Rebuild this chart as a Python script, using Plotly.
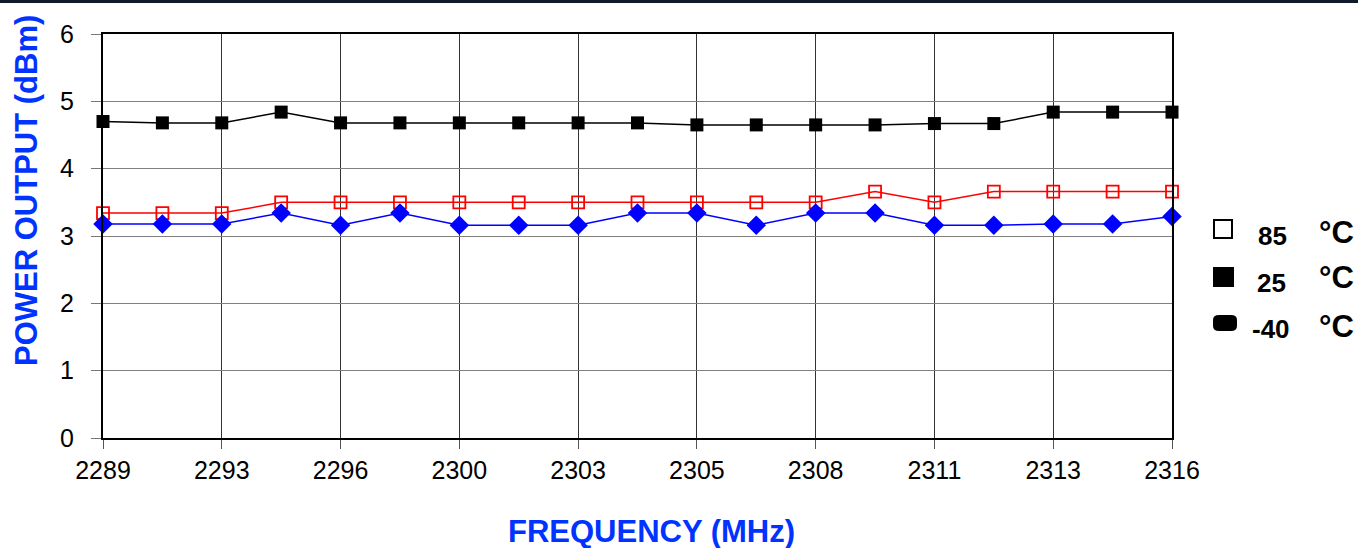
import plotly.graph_objects as go

freq_labels = ["2289", "2293", "2296", "2300", "2303", "2305", "2308", "2311", "2313", "2316"]
n_points = 19
x_idx = list(range(n_points))
tick_idx = list(range(0, n_points, 2))

p85 = [3.34, 3.34, 3.34, 3.50, 3.50, 3.50, 3.50, 3.50, 3.50, 3.50,
       3.50, 3.50, 3.50, 3.66, 3.50, 3.66, 3.66, 3.66, 3.66]
p25 = [4.70, 4.68, 4.68, 4.84, 4.68, 4.68, 4.68, 4.68, 4.68, 4.68,
       4.65, 4.65, 4.65, 4.65, 4.67, 4.67, 4.84, 4.84, 4.84]
pm40 = [3.18, 3.18, 3.18, 3.34, 3.16, 3.34, 3.16, 3.16, 3.16, 3.34,
        3.34, 3.16, 3.34, 3.34, 3.16, 3.16, 3.18, 3.18, 3.29]

legend_nums = ["85", "25", "-40"]

FONT = "Liberation Sans, Arial, sans-serif"
BLUE_T = "#0033ff"

fig = go.Figure()
fig.add_trace(go.Scatter(x=x_idx, y=p25, mode="lines+markers",
                         line=dict(color="black", width=1.5),
                         marker=dict(symbol="square", size=13, color="black"),
                         cliponaxis=False, showlegend=False))
fig.add_trace(go.Scatter(x=x_idx, y=p85, mode="lines+markers",
                         line=dict(color="#ff0000", width=1.5),
                         marker=dict(symbol="square-open", size=12, color="#ff0000",
                                     line=dict(width=1.8)),
                         cliponaxis=False, showlegend=False))
fig.add_trace(go.Scatter(x=x_idx, y=pm40, mode="lines+markers",
                         line=dict(color="#0000ff", width=1.5),
                         marker=dict(symbol="diamond", size=15, color="#0000ff"),
                         cliponaxis=False, showlegend=False))

W, H = 1358, 548
L, R, T, B = 103, 186, 34, 110
pw, ph = W - L - R, H - T - B

def px_x(p):
    return (p - L) / pw

def px_y(p):
    return (H - B - p) / ph

shapes = []
# top dark band
shapes.append(dict(type="rect", xref="paper", yref="paper",
                   x0=px_x(0), x1=px_x(W), y0=px_y(3), y1=px_y(-2),
                   fillcolor="#0d1b2a", line=dict(width=0), layer="above"))
# legend symbols
shapes.append(dict(type="rect", xref="paper", yref="paper",
                   x0=px_x(1214), x1=px_x(1232), y0=px_y(238), y1=px_y(220),
                   fillcolor="white", line=dict(color="black", width=2)))
shapes.append(dict(type="rect", xref="paper", yref="paper",
                   x0=px_x(1213), x1=px_x(1234), y0=px_y(287), y1=px_y(267),
                   fillcolor="black", line=dict(width=0)))
shapes.append(dict(type="path", xref="paper", yref="paper",
                   path=("M {a},{b} L {c},{b} Q {d},{b} {d},{e} L {d},{f} Q {d},{g} {c},{g} "
                         "L {a},{g} Q {h},{g} {h},{f} L {h},{e} Q {h},{b} {a},{b} Z").format(
                       a=px_x(1219), c=px_x(1231), d=px_x(1237), h=px_x(1213),
                       b=px_y(315), e=px_y(320), f=px_y(326), g=px_y(331)),
                   fillcolor="black", line=dict(width=0)))

annotations = []
num_pos = [(1272, 236), (1271, 283), (1271, 329)]
deg_pos = [(1336, 232), (1336, 277), (1336, 326)]
for txt, (nx, ny), (dx, dy) in zip(legend_nums, num_pos, deg_pos):
    annotations.append(dict(x=px_x(nx), y=px_y(ny), xref="paper", yref="paper",
                            text="<b>" + txt + "</b>", showarrow=False,
                            xanchor="center", yanchor="middle",
                            font=dict(family=FONT, size=26, color="black")))
    annotations.append(dict(x=px_x(dx), y=px_y(dy), xref="paper", yref="paper",
                            text="<b>°C</b>", showarrow=False,
                            xanchor="center", yanchor="middle",
                            font=dict(family=FONT, size=31, color="black")))
# axis titles
annotations.append(dict(x=px_x(651), y=px_y(531), xref="paper", yref="paper",
                        text="<b>FREQUENCY (MHz)</b>", showarrow=False,
                        xanchor="center", yanchor="middle",
                        font=dict(family=FONT, size=31, color=BLUE_T)))
annotations.append(dict(x=px_x(26), y=px_y(191), xref="paper", yref="paper",
                        text="<b>POWER OUTPUT (dBm)</b>", showarrow=False, textangle=-90,
                        xanchor="center", yanchor="middle",
                        font=dict(family=FONT, size=31, color=BLUE_T)))

fig.update_layout(
    width=W, height=H,
    margin=dict(l=L, r=R, t=T, b=B, pad=0),
    paper_bgcolor="white", plot_bgcolor="white",
    font=dict(family=FONT, color="black"),
    shapes=shapes, annotations=annotations,
    showlegend=False,
)
fig.update_xaxes(
    range=[0, n_points - 1], tickmode="array", tickvals=tick_idx, ticktext=freq_labels,
    tickfont=dict(size=25, family=FONT, color="black"),
    ticks="outside", ticklen=9, tickcolor="#555555", tickwidth=1,
    ticklabelstandoff=0,
    showgrid=True, gridcolor="#333333", gridwidth=1,
    showline=True, linecolor="black", linewidth=2, mirror=True,
    zeroline=False,
)
fig.update_yaxes(
    range=[0, 6], tickmode="array", tickvals=[0, 1, 2, 3, 4, 5, 6],
    tickfont=dict(size=25, family=FONT, color="black"),
    ticks="outside", ticklen=10, tickcolor="#777777", tickwidth=1,
    ticklabelstandoff=12,
    showgrid=True, gridcolor="#808080", gridwidth=1,
    showline=True, linecolor="black", linewidth=2, mirror=True,
    zeroline=False,
)

fig.write_html("out.html", config={"displayModeBar": False},
               post_script="document.body.style.margin='0';document.body.style.overflow='hidden';")
